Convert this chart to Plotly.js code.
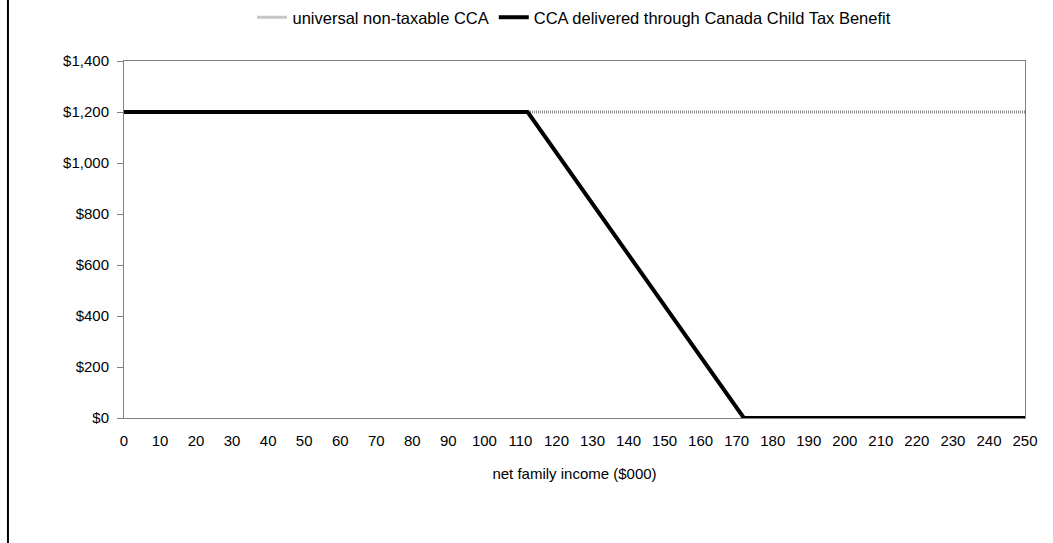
<!DOCTYPE html>
<html>
<head>
<meta charset="utf-8">
<script src="https://cdn.plot.ly/plotly-3.0.1.min.js"></script>
<style>
  html, body { margin: 0; padding: 0; background: #fff; }
  #chart { width: 1053px; height: 543px; }
</style>
</head>
<body>
<div id="chart"></div>
<script>
// Net family income in thousands of dollars
const universalIncome = [0, 250];
const universalAmount = [1200, 1200];

const cctbIncome = [0, 112, 172, 250];
const cctbAmount = [1200, 1200, 0, 0];

const xTicks = [0, 10, 20, 30, 40, 50, 60, 70, 80, 90, 100, 110, 120, 130, 140, 150, 160, 170, 180, 190, 200, 210, 220, 230, 240, 250];
const yTicks = [0, 200, 400, 600, 800, 1000, 1200, 1400];
const yTickLabels = ['$0', '$200', '$400', '$600', '$800', '$1,000', '$1,200', '$1,400'];

const traces = [
  {
    x: universalIncome,
    y: universalAmount,
    name: 'universal non-taxable CCA',
    mode: 'lines',
    line: { color: '#8c8c8c', width: 3, dash: '1px,1px' }
  },
  {
    x: cctbIncome,
    y: cctbAmount,
    name: 'CCA delivered through Canada Child Tax Benefit',
    mode: 'lines',
    line: { color: '#000000', width: 4 }
  }
];

const font = { family: 'Liberation Sans, Arial, sans-serif', size: 15, color: '#000' };
const legendFont = { family: 'Liberation Sans, Arial, sans-serif', size: 16.5, color: '#000' };

const layout = {
  width: 1053,
  height: 543,
  margin: { l: 124, r: 28, t: 61, b: 125 },
  paper_bgcolor: '#ffffff',
  plot_bgcolor: '#ffffff',
  font: font,
  showlegend: true,
  legend: {
    orientation: 'h',
    x: 0.5, xanchor: 'center',
    yref: 'container',
    y: 1, yanchor: 'top',
    font: legendFont,
    bgcolor: 'rgba(0,0,0,0)',
    itemwidth: 30,
    tracegroupgap: 0
  },
  xaxis: {
    range: [0, 250],
    tickmode: 'array',
    tickvals: xTicks,
    ticktext: xTicks.map(String),
    showgrid: false,
    zeroline: false,
    showline: true,
    mirror: true,
    linecolor: '#808080',
    linewidth: 1,
    ticks: 'outside',
    ticklen: 9,
    tickcolor: 'rgba(0,0,0,0)',
    tickfont: font,
    title: { text: 'net family income ($000)', font: font, standoff: 20 }
  },
  yaxis: {
    range: [0, 1400],
    tickmode: 'array',
    tickvals: yTicks,
    ticktext: yTickLabels,
    showgrid: false,
    zeroline: false,
    showline: true,
    mirror: true,
    linecolor: '#808080',
    linewidth: 1,
    ticks: 'outside',
    ticklen: 6,
    tickcolor: '#808080',
    ticklabelstandoff: 5,
    tickfont: font
  },
  shapes: [
    {
      type: 'line', xref: 'paper', yref: 'paper',
      x0: -0.1288, x1: -0.1288, y0: -0.4, y1: 1.25,
      line: { color: '#000000', width: 2 }
    }
  ]
};

Plotly.newPlot('chart', traces, layout, { displayModeBar: false, staticPlot: true });
</script>
</body>
</html>
